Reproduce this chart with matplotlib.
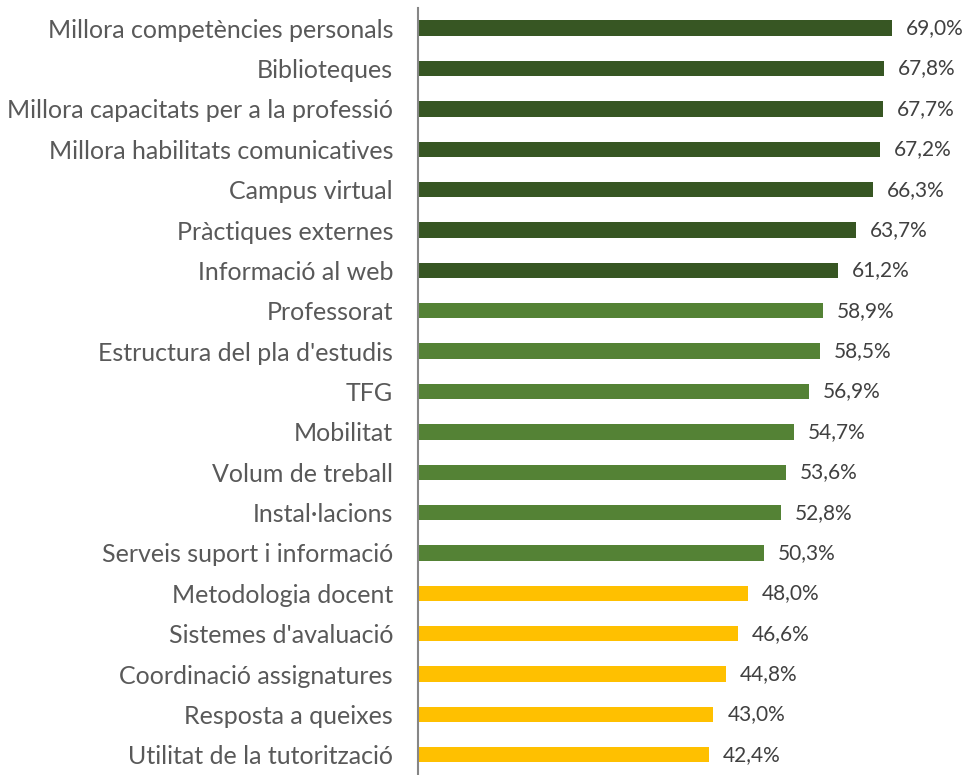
import matplotlib
matplotlib.use('Agg')
import matplotlib.pyplot as plt

categories = [
    "Millora competències personals",
    "Biblioteques",
    "Millora capacitats per a la professió",
    "Millora habilitats comunicatives",
    "Campus virtual",
    "Pràctiques externes",
    "Informació al web",
    "Professorat",
    "Estructura del pla d'estudis",
    "TFG",
    "Mobilitat",
    "Volum de treball",
    "Instal·lacions",
    "Serveis suport i informació",
    "Metodologia docent",
    "Sistemes d'avaluació",
    "Coordinació assignatures",
    "Resposta a queixes",
    "Utilitat de la tutorització",
]
values = [69.0, 67.8, 67.7, 67.2, 66.3, 63.7, 61.2, 58.9, 58.5, 56.9,
          54.7, 53.6, 52.8, 50.3, 48.0, 46.6, 44.8, 43.0, 42.4]

DARK_GREEN = '#375623'
GREEN = '#548235'
YELLOW = '#FFC000'


def bar_color(v):
    if v >= 60:
        return DARK_GREEN
    if v >= 50:
        return GREEN
    return YELLOW


plt.rcParams['font.family'] = ['Lato', 'DejaVu Sans']

fig = plt.figure(figsize=(9.71, 7.75), dpi=100)
ax = fig.add_axes([0.4305, 0.0, 0.566, 0.9897])

ypos = list(range(len(categories)))
colors = [bar_color(v) for v in values]
ax.barh(ypos, values, height=0.38, color=colors)

for y, v in zip(ypos, values):
    label = f"{v:.1f}%".replace('.', ',')
    ax.annotate(label, (v, y), xytext=(10, 0), textcoords='offset points',
                va='center', ha='left', fontsize=15, color='#404040')

ax.set_xlim(0, 80)
ax.set_ylim(len(categories) - 0.5, -0.5)
ax.set_yticks(ypos)
ax.set_yticklabels(categories, fontsize=18, color='#595959')
ax.tick_params(axis='y', length=0, pad=18)
ax.set_xticks([])

for side in ['top', 'right', 'bottom']:
    ax.spines[side].set_visible(False)
ax.spines['left'].set_color('#868686')
ax.spines['left'].set_linewidth(1.5)

fig.savefig('out.png', dpi=100)
